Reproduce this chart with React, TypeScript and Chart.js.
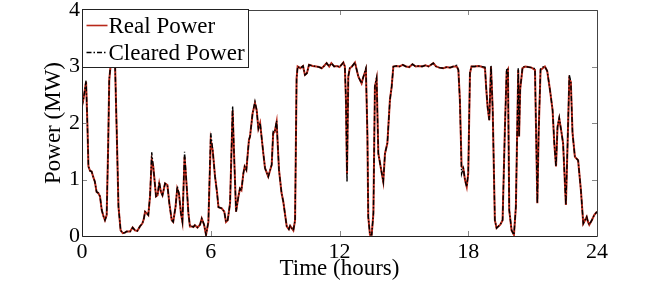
import { useEffect, useRef } from "react";
import { Chart, registerables } from "chart.js";

Chart.register(...registerables);

const hours = [
  0.0, 0.08, 0.19, 0.25, 0.3, 0.38, 0.45, 0.52, 0.6, 0.68, 0.76, 0.84, 0.92, 1.0, 1.07, 1.15, 1.22, 1.27, 1.34, 1.45,
  1.54, 1.62, 1.7, 1.8, 1.9, 2.0, 2.08, 2.16, 2.24, 2.36, 2.47, 2.58, 2.7, 2.81, 2.88, 2.94, 3.02, 3.09, 3.17, 3.25,
  3.32, 3.39, 3.45, 3.52, 3.6, 3.68, 3.75, 3.87, 3.98, 4.07, 4.18, 4.25, 4.36, 4.44, 4.52, 4.61, 4.68, 4.78, 4.88, 4.96,
  5.03, 5.12, 5.19, 5.26, 5.38, 5.5, 5.58, 5.69, 5.78, 5.89, 6.0, 6.09, 6.2, 6.29, 6.36, 6.51, 6.63, 6.71, 6.79, 6.9,
  7.02, 7.08, 7.18, 7.29, 7.36, 7.43, 7.52, 7.58, 7.66, 7.78, 7.83, 7.95, 8.06, 8.14, 8.22, 8.3, 8.45, 8.53, 8.68, 8.84,
  8.91, 8.98, 9.07, 9.18, 9.3, 9.38, 9.54, 9.64, 9.7, 9.85, 9.93, 10.0, 10.05, 10.17, 10.3, 10.39, 10.48, 10.58, 10.75, 10.92,
  11.05, 11.17, 11.28, 11.4, 11.52, 11.62, 11.75, 11.88, 12.0, 12.18, 12.25, 12.3, 12.35, 12.41, 12.48, 12.58, 12.72, 12.88, 13.03, 13.1,
  13.23, 13.3, 13.34, 13.42, 13.5, 13.58, 13.65, 13.73, 13.81, 13.97, 14.04, 14.12, 14.23, 14.35, 14.43, 14.51, 14.65, 14.8, 14.95, 15.1,
  15.25, 15.4, 15.55, 15.7, 15.85, 16.0, 16.15, 16.37, 16.5, 16.65, 16.84, 17.0, 17.15, 17.3, 17.46, 17.54, 17.61, 17.69, 17.77, 17.85,
  17.93, 18.0, 18.08, 18.15, 18.3, 18.45, 18.6, 18.78, 18.84, 18.9, 18.98, 19.06, 19.14, 19.24, 19.32, 19.4, 19.49, 19.6, 19.71, 19.79,
  19.85, 19.91, 20.02, 20.13, 20.22, 20.33, 20.37, 20.42, 20.53, 20.65, 20.8, 20.95, 21.11, 21.22, 21.28, 21.37, 21.47, 21.57, 21.68, 21.81,
  21.93, 22.01, 22.09, 22.16, 22.24, 22.35, 22.42, 22.55, 22.63, 22.71, 22.78, 22.86, 22.97, 23.12, 23.25, 23.36, 23.44, 23.52, 23.58, 23.64,
  23.76, 23.87, 24.0,
];

const realPower = [
  2.3, 2.45, 2.73, 2.0, 1.23, 1.15, 1.14, 1.05, 0.96, 0.78, 0.76, 0.7, 0.46, 0.35, 0.28, 0.37, 1.6, 2.76, 3.05, 3.1,
  3.05, 1.82, 0.52, 0.1, 0.05, 0.06, 0.08, 0.08, 0.08, 0.15, 0.1, 0.09, 0.17, 0.22, 0.3, 0.43, 0.4, 0.37, 0.7, 1.35,
  1.23, 0.95, 0.7, 0.72, 0.93, 0.78, 0.72, 0.93, 0.9, 0.58, 0.28, 0.25, 0.52, 0.84, 0.75, 0.4, 0.25, 1.4, 0.87, 0.4,
  0.17, 0.17, 0.16, 0.19, 0.15, 0.2, 0.31, 0.2, 0.02, 0.25, 1.7, 1.52, 1.05, 0.78, 0.51, 0.49, 0.43, 0.25, 0.28, 0.58,
  2.22, 1.52, 0.43, 0.7, 0.84, 0.81, 1.11, 1.23, 1.17, 1.7, 1.76, 2.17, 2.35, 2.23, 1.9, 2.0, 1.46, 1.2, 1.05, 1.26,
  1.82, 1.84, 2.02, 1.17, 0.76, 0.61, 0.17, 0.12, 0.18, 0.1, 0.28, 2.79, 3.0, 2.97, 3.01, 2.85, 2.88, 3.03, 3.01, 3.0,
  2.99, 2.97, 3.01, 3.06, 3.0, 3.06, 3.0, 3.01, 2.99, 3.07, 3.0, 2.41, 1.1, 2.82, 2.97, 3.0, 3.07, 2.82, 2.7, 2.8,
  2.95, 1.8, 0.34, 0.02, 0.02, 0.4, 2.64, 2.79, 1.46, 1.11, 0.96, 1.46, 1.64, 2.41, 2.64, 3.0, 3.01, 3.0, 3.03, 3.0,
  2.99, 3.04, 3.0, 3.01, 3.0, 3.02, 3.0, 3.06, 3.0, 2.98, 2.97, 2.99, 2.98, 3.0, 3.0, 2.94, 2.41, 1.23, 1.2, 0.99,
  0.87, 1.11, 2.88, 3.0, 3.0, 3.01, 3.0, 2.97, 2.6, 2.29, 2.05, 3.0, 2.23, 0.28, 0.14, 0.17, 0.2, 0.28, 1.93, 2.91,
  2.95, 0.46, 0.1, 0.02, 0.52, 2.94, 1.76, 2.6, 2.97, 3.0, 2.99, 2.98, 2.94, 0.58, 1.82, 2.94, 2.97, 3.0, 2.92, 2.58,
  2.23, 1.64, 1.23, 1.93, 2.08, 1.82, 1.64, 0.55, 1.64, 2.78, 2.73, 1.82, 1.4, 1.34, 0.81, 0.22, 0.28, 0.34, 0.25, 0.2,
  0.28, 0.37, 0.43,
];

const clearedPower = [
  2.3, 2.45, 2.75, 2.0, 1.23, 1.15, 1.14, 1.05, 0.96, 0.78, 0.76, 0.7, 0.46, 0.35, 0.28, 0.37, 1.6, 2.78, 3.05, 3.1,
  3.05, 1.82, 0.52, 0.1, 0.05, 0.06, 0.08, 0.08, 0.08, 0.15, 0.1, 0.09, 0.17, 0.22, 0.3, 0.43, 0.4, 0.37, 0.7, 1.48,
  1.23, 0.95, 0.7, 0.72, 0.96, 0.78, 0.72, 0.93, 0.9, 0.58, 0.28, 0.25, 0.52, 0.88, 0.75, 0.4, 0.25, 1.49, 0.87, 0.4,
  0.17, 0.17, 0.16, 0.19, 0.15, 0.2, 0.31, 0.2, 0.02, 0.25, 1.82, 1.52, 1.05, 0.78, 0.51, 0.49, 0.43, 0.25, 0.28, 0.58,
  2.3, 1.52, 0.43, 0.7, 0.84, 0.81, 1.11, 1.23, 1.17, 1.7, 1.76, 2.17, 2.38, 2.23, 1.9, 2.0, 1.46, 1.2, 1.05, 1.26,
  1.85, 1.84, 2.04, 1.17, 0.76, 0.61, 0.17, 0.12, 0.18, 0.1, 0.28, 2.79, 3.0, 2.97, 3.01, 2.85, 2.88, 3.03, 3.01, 3.0,
  2.99, 2.97, 3.01, 3.06, 3.0, 3.06, 3.0, 3.01, 2.99, 3.07, 3.0, 2.41, 0.95, 2.82, 2.97, 3.0, 3.07, 2.82, 2.7, 2.8,
  2.97, 1.8, 0.34, 0.02, 0.02, 0.4, 2.66, 2.8, 1.46, 1.11, 0.96, 1.46, 1.64, 2.41, 2.64, 3.0, 3.01, 3.0, 3.03, 3.0,
  2.99, 3.04, 3.0, 3.01, 3.0, 3.02, 3.0, 3.06, 3.0, 2.98, 2.97, 2.99, 2.98, 3.0, 3.02, 2.94, 2.41, 1.1, 1.2, 0.99,
  0.87, 1.11, 2.9, 3.0, 3.0, 3.01, 3.0, 2.99, 2.6, 2.29, 2.05, 3.02, 2.23, 0.28, 0.14, 0.17, 0.2, 0.28, 1.93, 2.95,
  2.97, 0.46, 0.1, 0.02, 0.52, 2.97, 1.76, 2.6, 2.99, 3.0, 2.99, 2.98, 2.96, 0.58, 1.82, 2.96, 2.99, 3.0, 2.92, 2.58,
  2.23, 1.64, 1.23, 1.93, 2.1, 1.82, 1.64, 0.55, 1.64, 2.85, 2.73, 1.82, 1.4, 1.34, 0.81, 0.22, 0.28, 0.34, 0.25, 0.2,
  0.28, 0.37, 0.43,
];

const xTicks = [0, 6, 12, 18, 24];
const yTicks = [0, 1, 2, 3, 4];
const seriesNames = ["Real Power", "Cleared Power"];
const axisTitles = ["Time (hours)", "Power (MW)"];

const FONT = "'Liberation Serif', 'Times New Roman', serif";
const RED = "#b8281a";

const decorPlugin = {
  id: "decor",
  afterDatasetsDraw(chart: any) {
    const { ctx, chartArea } = chart;
    const { left, right, top, bottom } = chartArea;
    const xs = chart.scales.x;
    const ys = chart.scales.y;
    ctx.save();
    // inward tick marks
    ctx.strokeStyle = "#888";
    ctx.lineWidth = 1;
    ctx.beginPath();
    for (const v of xTicks) {
      const px = Math.round(xs.getPixelForValue(v)) + 0.5;
      ctx.moveTo(px, bottom);
      ctx.lineTo(px, bottom - 5);
      ctx.moveTo(px, top);
      ctx.lineTo(px, top + 5);
    }
    for (const v of yTicks) {
      const py = Math.round(ys.getPixelForValue(v)) + 0.5;
      ctx.moveTo(left, py);
      ctx.lineTo(left + 5, py);
      ctx.moveTo(right, py);
      ctx.lineTo(right - 5, py);
    }
    ctx.stroke();
    // frame
    ctx.strokeStyle = "#444";
    ctx.beginPath();
    ctx.moveTo(Math.round(left) + 0.5, Math.round(top) + 0.5);
    ctx.lineTo(Math.round(right) + 0.5, Math.round(top) + 0.5);
    ctx.lineTo(Math.round(right) + 0.5, Math.round(bottom) + 0.5);
    ctx.stroke();
    ctx.strokeStyle = "#222";
    ctx.beginPath();
    ctx.moveTo(Math.round(left) + 0.5, Math.round(top) + 0.5);
    ctx.lineTo(Math.round(left) + 0.5, Math.round(bottom) + 0.5);
    ctx.lineTo(Math.round(right) + 0.5, Math.round(bottom) + 0.5);
    ctx.stroke();

    // legend box
    const lx = Math.round(left) + 0.5;
    const ly = Math.round(top) - 0.5;
    const lw = 166;
    const lh = 58;
    ctx.fillStyle = "#fff";
    ctx.fillRect(lx, ly, lw, lh);
    ctx.strokeStyle = "#222";
    ctx.lineWidth = 1;
    ctx.strokeRect(lx, ly, lw, lh);

    const rows = [ly + 16, ly + 43];
    ctx.lineWidth = 1.6;
    ctx.strokeStyle = RED;
    ctx.setLineDash([]);
    ctx.beginPath();
    ctx.moveTo(lx + 4, rows[0]);
    ctx.lineTo(lx + 25, rows[0]);
    ctx.stroke();
    ctx.strokeStyle = "#000";
    ctx.setLineDash([5, 2, 1.5, 2]);
    ctx.beginPath();
    ctx.moveTo(lx + 4, rows[1]);
    ctx.lineTo(lx + 25, rows[1]);
    ctx.stroke();
    ctx.setLineDash([]);

    ctx.fillStyle = "#000";
    ctx.font = `23px ${FONT}`;
    ctx.textBaseline = "middle";
    ctx.textAlign = "left";
    ctx.fillText(seriesNames[0], lx + 26, rows[0] + 1);
    ctx.fillText(seriesNames[1], lx + 26, rows[1] + 1);
    ctx.restore();
  },
};

export default function App() {
  const ref = useRef<HTMLCanvasElement | null>(null);

  useEffect(() => {
    if (!ref.current) return;
    const realData = hours.map((h, i) => ({ x: h, y: realPower[i] }));
    const clearedData = hours.map((h, i) => ({ x: h, y: clearedPower[i] }));
    const chart = new Chart(ref.current, {
      type: "line",
      data: {
        datasets: [
          {
            label: seriesNames[0],
            data: realData,
            borderColor: RED,
            borderWidth: 2,
            pointRadius: 0,
            tension: 0,
            order: 2,
          },
          {
            label: seriesNames[1],
            data: clearedData,
            borderColor: "#000",
            borderWidth: 1.4,
            borderDash: [5, 2, 1.5, 2],
            pointRadius: 0,
            tension: 0,
            order: 1,
          },
        ],
      },
      options: {
        animation: false,
        responsive: true,
        maintainAspectRatio: false,
        layout: { padding: { left: 0, right: 67, top: 10, bottom: 0 } },
        plugins: {
          legend: { display: false },
          tooltip: { enabled: false },
        },
        scales: {
          x: {
            type: "linear",
            min: 0,
            max: 24,
            grid: { display: false, drawTicks: false },
            border: { display: false },
            ticks: {
              color: "#000",
              font: { family: FONT, size: 22 },
              padding: 3,
              maxRotation: 0,
            },
            title: {
              display: true,
              text: axisTitles[0],
              color: "#000",
              font: { family: FONT, size: 23 },
              padding: { top: 0, bottom: 3 },
            },
            afterBuildTicks: (s: any) => {
              s.ticks = xTicks.map((v) => ({ value: v }));
            },
            afterFit: (s: any) => {
              s.height = 50;
              s.paddingLeft = 0;
              s.paddingRight = 0;
            },
          },
          y: {
            min: 0,
            max: 4,
            grid: { display: false, drawTicks: false },
            border: { display: false },
            ticks: {
              color: "#000",
              font: { family: FONT, size: 22 },
              padding: 2,
            },
            title: {
              display: true,
              text: axisTitles[1],
              color: "#000",
              font: { family: FONT, size: 23 },
              padding: { top: 40, bottom: 0 },
            },
            afterBuildTicks: (s: any) => {
              s.ticks = yTicks.map((v) => ({ value: v }));
            },
            afterFit: (s: any) => {
              s.width = 82;
              s.paddingTop = 0;
              s.paddingBottom = 0;
            },
          },
        },
      },
      plugins: [decorPlugin],
    });
    return () => chart.destroy();
  }, []);

  return (
    <div style={{ position: "absolute", left: 0, top: 0, width: 664, height: 286, background: "#fff" }}>
      <canvas ref={ref} />
    </div>
  );
}
